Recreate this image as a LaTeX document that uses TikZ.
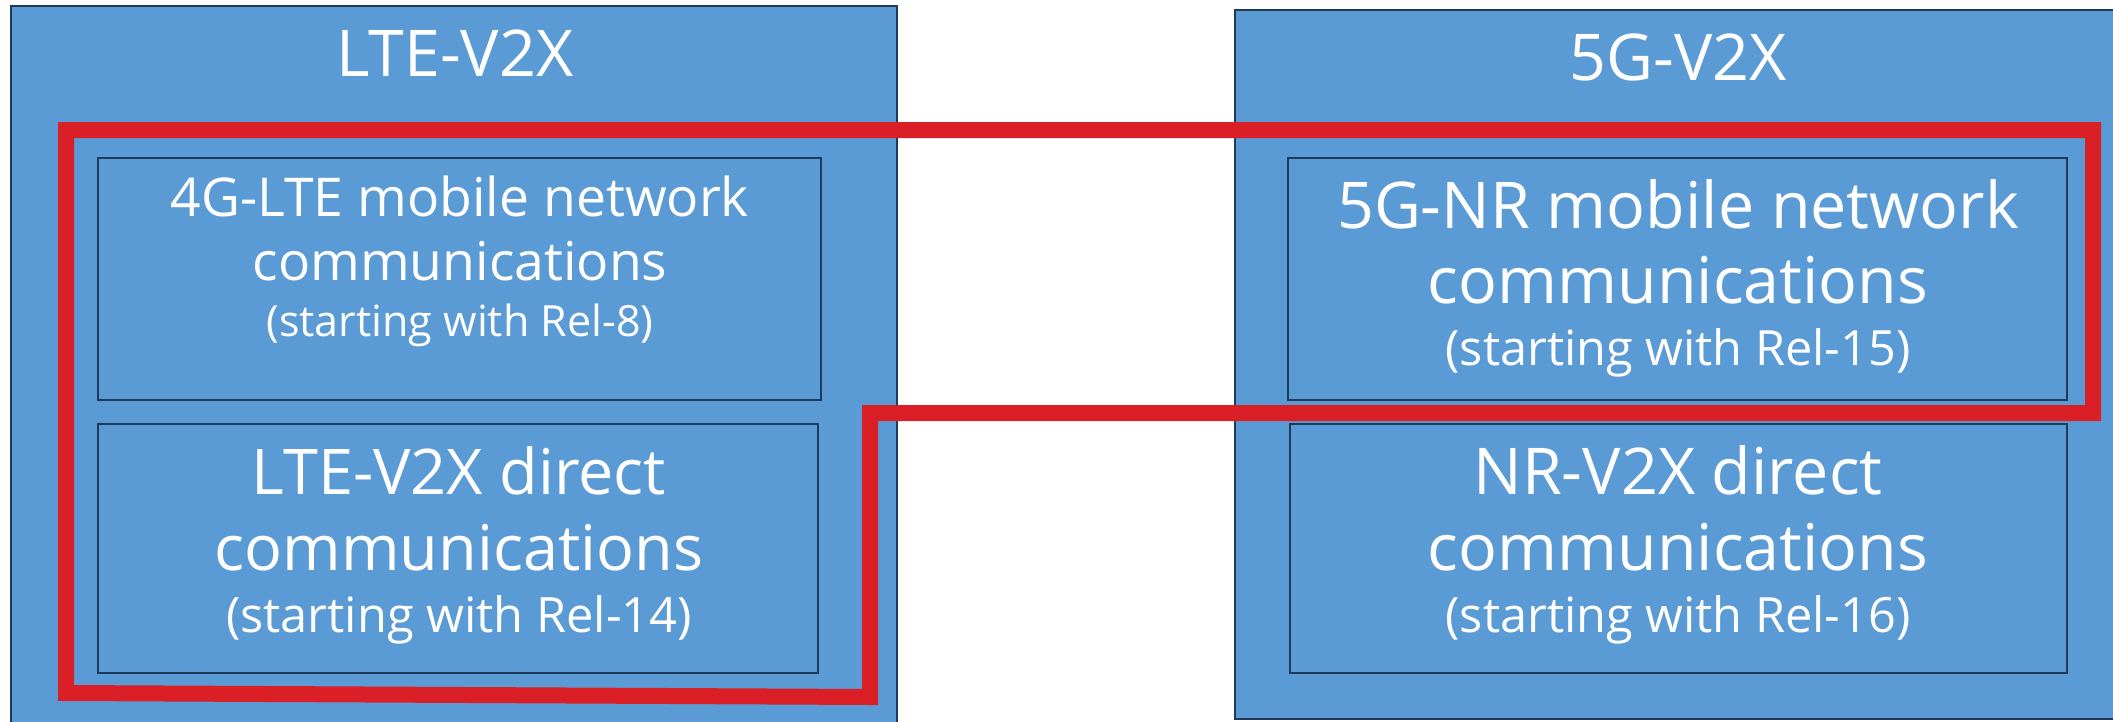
\documentclass[tikz,border=0pt]{standalone}
\usepackage{fontspec}
\setmainfont{Open Sans}
\definecolor{boxblue}{RGB}{91,155,213}
\definecolor{boxedge}{RGB}{31,58,90}
\definecolor{hlred}{RGB}{218,31,38}
\tikzset{
  outerbox/.style={draw=boxedge, line width=2.2pt, fill=boxblue, anchor=north west, inner sep=0pt, outer sep=0pt},
  innerbox/.style={draw=boxedge, line width=2.2pt, fill=boxblue, anchor=north west, inner sep=0pt, outer sep=0pt},
  redline/.style={draw=hlred, line width=16pt, line join=miter},
  txt/.style={text=white, anchor=base, inner sep=0pt},
}
\begin{document}
\begin{tikzpicture}[x=1pt,y=-1pt]
\useasboundingbox (0,0) rectangle (2113,721);
% outer boxes
\node[outerbox, minimum width=886pt, minimum height=740pt] (L) at (11,6) {};
\node[outerbox, minimum width=900pt, minimum height=709pt] (R) at (1235,10) {};
% inner boxes
\node[innerbox, minimum width=723pt, minimum height=242pt] (LU) at (98,158) {};
\node[innerbox, minimum width=720pt, minimum height=249pt] (LL) at (98,424) {};
\node[innerbox, minimum width=779pt, minimum height=242pt] (RU) at (1288,158) {};
\node[innerbox, minimum width=777pt, minimum height=249pt] (RL) at (1290,424) {};
% titles
\node[txt, font=\fontsize{64.5}{70}\selectfont] (tL) at (455,76) {LTE-V2X};
\node[txt, font=\fontsize{64.5}{70}\selectfont] (tR) at (1678,80) {5G-V2X};
% left upper
\node[txt, font=\fontsize{53.5}{60}\selectfont] (lu1) at (460,216) {4G-LTE mobile network};
\node[txt, font=\fontsize{53.5}{60}\selectfont] (lu2) at (460,280) {communications};
\node[txt, font=\fontsize{43}{48}\selectfont] (lu3) at (460,336) {(starting with Rel-8)};
% left lower
\node[txt, font=\fontsize{63}{68}\selectfont] (ll1) at (459,494) {LTE-V2X direct};
\node[txt, font=\fontsize{63}{68}\selectfont] (ll2) at (459,570) {communications};
\node[txt, font=\fontsize{48.7}{54}\selectfont] (ll3) at (459,632) {(starting with Rel-14)};
% right upper
\node[txt, font=\fontsize{64.5}{70}\selectfont] (ru1) at (1678,228) {5G-NR mobile network};
\node[txt, font=\fontsize{64.5}{70}\selectfont] (ru2) at (1678,303) {communications};
\node[txt, font=\fontsize{48.6}{54}\selectfont] (ru3) at (1678,365) {(starting with Rel-15)};
% right lower
\node[txt, font=\fontsize{64.5}{70}\selectfont] (rl1) at (1678,494) {NR-V2X direct};
\node[txt, font=\fontsize{64.5}{70}\selectfont] (rl2) at (1678,570) {communications};
\node[txt, font=\fontsize{48.6}{54}\selectfont] (rl3) at (1678,632) {(starting with Rel-16)};
% red highlight
\coordinate (r1) at (66,130);
\coordinate (r2) at (2093,130);
\coordinate (r3) at (2093,413);
\coordinate (r4) at (870,413);
\coordinate (r5) at (870,697);
\coordinate (r6) at (66,693);
\draw[redline] (r1) -- (r2) -- (r3) -- (r4) -- (r5) -- (r6) -- cycle;
\end{tikzpicture}
\end{document}
